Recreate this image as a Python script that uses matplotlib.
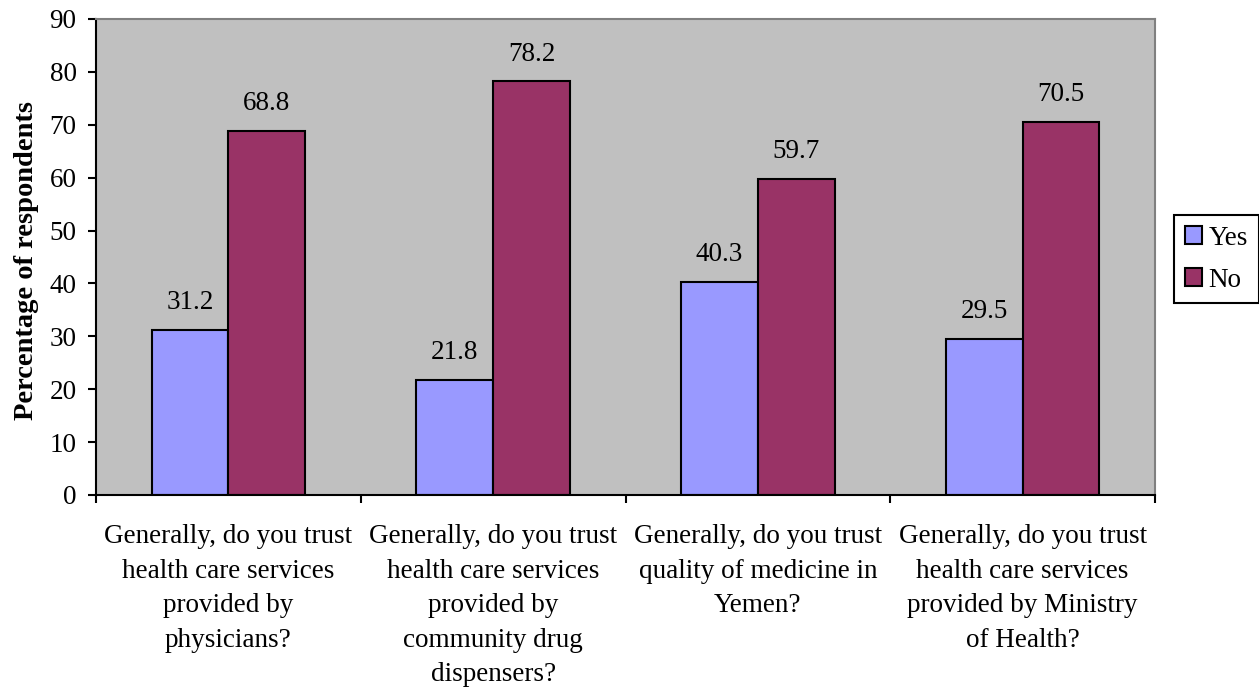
import matplotlib
matplotlib.use("Agg")
import matplotlib.pyplot as plt
import numpy as np

plt.rcParams["font.family"] = ["Liberation Serif", "DejaVu Serif"]

questions = [
    "Generally, do you trust\nhealth care services\nprovided by\nphysicians?",
    "Generally, do you trust\nhealth care services\nprovided by\ncommunity drug\ndispensers?",
    "Generally, do you trust\nquality of medicine in\nYemen?",
    "Generally, do you trust\nhealth care services\nprovided by Ministry\nof Health?",
]
yes_values = [31.2, 21.8, 40.3, 29.5]
no_values = [68.8, 78.2, 59.7, 70.5]

FS = 19.5

fig = plt.figure(figsize=(12.59, 6.91), dpi=100)
ax = fig.add_axes([96 / 1259, 1 - 495 / 691, (1155 - 96) / 1259, (495 - 19) / 691])
ax.set_facecolor("#C0C0C0")

x = np.arange(len(questions))
width = 0.29
bars_yes = ax.bar(x - width / 2, yes_values, width, color="#9999FF",
                  edgecolor="black", linewidth=1.5, label="Yes", zorder=2)
bars_no = ax.bar(x + width / 2, no_values, width, color="#993366",
                 edgecolor="black", linewidth=1.5, label="No", zorder=2)

for bars, vals in ((bars_yes, yes_values), (bars_no, no_values)):
    for b, v in zip(bars, vals):
        ax.annotate(f"{v:.1f}", (b.get_x() + b.get_width() / 2, v),
                    xytext=(0, 15), textcoords="offset points",
                    ha="center", va="baseline", fontsize=FS)

ax.set_xlim(-0.5, len(questions) - 0.5)
ax.set_ylim(0, 90)
ax.set_yticks(np.arange(0, 91, 10))
ax.tick_params(axis="y", labelsize=FS, length=6, width=1.5, direction="out", pad=8)

ax.set_xticks(np.arange(-0.5, len(questions), 1.0))
ax.set_xticklabels([])
ax.tick_params(axis="x", which="major", length=6, width=1.5, direction="out")
ax.set_xticks(x, minor=True)
ax.set_xticklabels(questions, minor=True, fontsize=FS, linespacing=1.5)
ax.tick_params(axis="x", which="minor", length=0, pad=21)

for side in ("left", "bottom"):
    ax.spines[side].set_linewidth(1.5)
    ax.spines[side].set_color("black")
for side in ("top", "right"):
    ax.spines[side].set_linewidth(1.5)
    ax.spines[side].set_color("#808080")

fig.text(27 / 1259, 1 - 261 / 691, "Percentage of respondents", rotation=90,
         ha="center", va="center", fontsize=20.5, fontweight="bold")

leg = fig.legend(handles=[bars_yes, bars_no], labels=["Yes", "No"],
                 loc="upper left", bbox_to_anchor=(1174 / 1259, 1 - 215 / 691),
                 borderaxespad=0, fontsize=FS,
                 frameon=True, fancybox=False, edgecolor="black", framealpha=1,
                 handlelength=0.65, handleheight=0.65, handletextpad=0.22,
                 borderpad=0.4, labelspacing=0.62)
leg.get_frame().set_linewidth(1.5)

fig.savefig("out.png", dpi=100)
